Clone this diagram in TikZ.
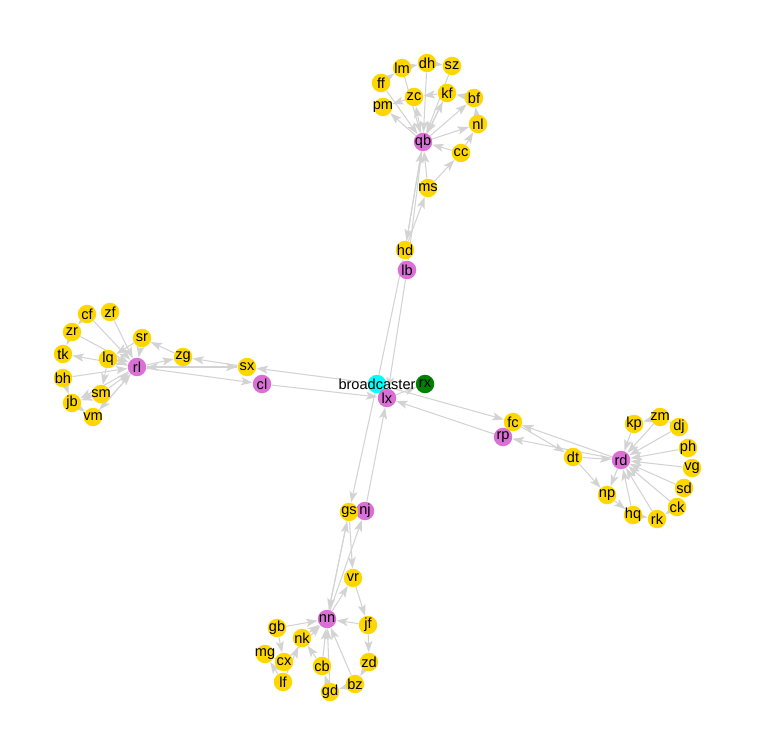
\documentclass[tikz,border=0pt]{standalone}
\usepackage{fontspec}
\setmainfont{Liberation Sans}
\usetikzlibrary{arrows.meta,backgrounds}
\definecolor{linkgray}{RGB}{211,211,211}
\definecolor{flipgold}{RGB}{255,215,0}
\definecolor{conjorchid}{RGB}{218,112,214}
\definecolor{startcyan}{RGB}{0,255,255}
\definecolor{endgreen}{RGB}{0,128,0}
\tikzset{
  vertex/.style={circle, inner sep=0pt, minimum size=0.37cm},
  flip/.style={vertex, fill=flipgold},
  conj/.style={vertex, fill=conjorchid},
  every label/.style={font=\fontsize{8.3}{9}\selectfont, text=black, inner sep=0pt},
  link/.style={draw=linkgray, line width=0.6pt, -{Stealth[length=6.5pt,width=4.6pt,inset=1.5pt]}}
}
\begin{document}
\begin{tikzpicture}[x=0.02cm, y=-0.02cm]
                \useasboundingbox (0,0) rectangle (756,756);
                % centre
                \node[vertex, fill=endgreen, label=center:rx] (rx) at (425,384) {};
                \node[vertex, fill=startcyan, label=center:broadcaster] (broadcaster) at (377,384) {};
                \node[conj, label=center:lx] (lx) at (387,398) {};
                \node[conj, label=center:lb] (lb) at (407,270) {};
                \node[conj, label=center:cl] (cl) at (262,384) {};
                \node[conj, label=center:rp] (rp) at (503,437) {};
                \node[conj, label=center:nj] (nj) at (365,511) {};

                % top counter
                \node[conj, label=center:qb] (qb) at (423,142) {};
                \node[flip, label=center:hd] (hd) at (405,250) {};
                \node[flip, label=center:ms] (ms) at (428,188) {};
                \node[flip, label=center:cc] (cc) at (461,153) {};
                \node[flip, label=center:nl] (nl) at (478,124) {};
                \node[flip, label=center:bf] (bf) at (474,98) {};
                \node[flip, label=center:kf] (kf) at (447,93) {};
                \node[flip, label=center:zc] (zc) at (414,97) {};
                \node[flip, label=center:pm] (pm) at (383,107) {};
                \node[flip, label=center:ff] (ff) at (381,83) {};
                \node[flip, label=center:lm] (lm) at (402,68) {};
                \node[flip, label=center:dh] (dh) at (427,63) {};
                \node[flip, label=center:sz] (sz) at (452,66) {};

                % left counter
                \node[conj, label=center:rl] (rl) at (137,367) {};
                \node[flip, label=center:sx] (sx) at (247,367) {};
                \node[flip, label=center:zg] (zg) at (183,357) {};
                \node[flip, label=center:sr] (sr) at (142,338) {};
                \node[flip, label=center:lq] (lq) at (108,359) {};
                \node[flip, label=center:sm] (sm) at (101,394) {};
                \node[flip, label=center:vm] (vm) at (93,417) {};
                \node[flip, label=center:jb] (jb) at (72,403) {};
                \node[flip, label=center:bh] (bh) at (63,378) {};
                \node[flip, label=center:tk] (tk) at (63,354) {};
                \node[flip, label=center:zr] (zr) at (72,332) {};
                \node[flip, label=center:cf] (cf) at (87,314) {};
                \node[flip, label=center:zf] (zf) at (110,312) {};

                % right counter
                \node[conj, label=center:rd] (rd) at (621,460) {};
                \node[flip, label=center:fc] (fc) at (513,422) {};
                \node[flip, label=center:dt] (dt) at (573,457) {};
                \node[flip, label=center:np] (np) at (607,495) {};
                \node[flip, label=center:hq] (hq) at (633,515) {};
                \node[flip, label=center:rk] (rk) at (657,519) {};
                \node[flip, label=center:ck] (ck) at (677,507) {};
                \node[flip, label=center:sd] (sd) at (684,488) {};
                \node[flip, label=center:vg] (vg) at (692,468) {};
                \node[flip, label=center:ph] (ph) at (688,448) {};
                \node[flip, label=center:dj] (dj) at (679,427) {};
                \node[flip, label=center:zm] (zm) at (660,417) {};
                \node[flip, label=center:kp] (kp) at (634,424) {};

                % bottom counter
                \node[conj, label=center:nn] (nn) at (327,619) {};
                \node[flip, label=center:gs] (gs) at (349,512) {};
                \node[flip, label=center:vr] (vr) at (353,578) {};
                \node[flip, label=center:jf] (jf) at (368,625) {};
                \node[flip, label=center:zd] (zd) at (369,662) {};
                \node[flip, label=center:bz] (bz) at (355,684) {};
                \node[flip, label=center:gd] (gd) at (330,692) {};
                \node[flip, label=center:cb] (cb) at (322,666) {};
                \node[flip, label=center:nk] (nk) at (302,638) {};
                \node[flip, label=center:gb] (gb) at (277,628) {};
                \node[flip, label=center:cx] (cx) at (284,662) {};
                \node[flip, label=center:mg] (mg) at (265,654) {};
                \node[flip, label=center:lf] (lf) at (283,682) {};

                \begin{scope}[on background layer]
                % centre links
                \draw[link] (broadcaster) to (hd); \draw[link] (broadcaster) to (sx); \draw[link] (broadcaster) to (fc); \draw[link] (broadcaster) to (gs);
                \draw[link] (lb) to (lx); \draw[link] (cl) to (lx); \draw[link] (rp) to (lx); \draw[link] (nj) to (lx); \draw[link] (lx) to (rx);
                \draw[link] (qb) to (lb); \draw[link] (rl) to (cl); \draw[link] (rd) to (rp); \draw[link] (nn) to (nj);

                % top links
                \draw[link] (hd) to (ms); \draw[link] (ms) to (cc); \draw[link] (cc) to (nl); \draw[link] (nl) to (bf); \draw[link] (bf) to (kf); \draw[link] (kf) to (zc);
                \draw[link] (zc) to (pm); \draw[link] (ff) to (lm); \draw[link] (lm) to (dh); \draw[link] (dh) to (sz);
                \draw[link] (hd) to (qb); \draw[link] (qb) to (hd); \draw[link] (ms) to (qb); \draw[link] (cc) to (qb); \draw[link] (qb) to (nl); \draw[link] (qb) to (bf);
                \draw[link] (qb) to (kf); \draw[link] (kf) to (qb); \draw[link] (qb) to (zc); \draw[link] (qb) to (pm); \draw[link] (ff) to (qb); \draw[link] (lm) to (qb);
                \draw[link] (dh) to (qb); \draw[link] (sz) to (qb);

                % left links
                \draw[link] (sx) to (zg); \draw[link] (zg) to (sr); \draw[link] (sr) to (lq); \draw[link] (lq) to (sm); \draw[link] (sm) to (jb); \draw[link] (jb) to (vm);
                \draw[link] (bh) to (jb); \draw[link] (zr) to (tk); \draw[link] (cf) to (zr);
                \draw[link] (sx) to (rl); \draw[link] (rl) to (sx); \draw[link] (rl) to (zg); \draw[link] (sr) to (rl); \draw[link] (lq) to (rl); \draw[link] (rl) to (tk);
                \draw[link] (sm) to (rl); \draw[link] (rl) to (vm); \draw[link] (vm) to (rl); \draw[link] (bh) to (rl); \draw[link] (zr) to (rl); \draw[link] (cf) to (rl);
                \draw[link] (zf) to (rl); \draw[link] (rl) to (jb);

                % right links
                \draw[link] (fc) to (dt); \draw[link] (dt) to (np); \draw[link] (np) to (hq); \draw[link] (hq) to (rk); \draw[link] (ck) to (rk); \draw[link] (dj) to (zm);
                \draw[link] (zm) to (kp);
                \draw[link] (rd) to (fc); \draw[link] (dt) to (rd); \draw[link] (rd) to (np); \draw[link] (hq) to (rd); \draw[link] (rk) to (rd); \draw[link] (ck) to (rd);
                \draw[link] (sd) to (rd); \draw[link] (vg) to (rd); \draw[link] (ph) to (rd); \draw[link] (dj) to (rd); \draw[link] (zm) to (rd); \draw[link] (kp) to (rd);

                % bottom links
                \draw[link] (gs) to (vr); \draw[link] (vr) to (jf); \draw[link] (jf) to (zd); \draw[link] (zd) to (bz); \draw[link] (bz) to (gd); \draw[link] (gd) to (cb);
                \draw[link] (cb) to (nk); \draw[link] (lf) to (nk); \draw[link] (gb) to (cx); \draw[link] (cx) to (mg); \draw[link] (lf) to (mg);
                \draw[link] (nn) to (gs); \draw[link] (gs) to (nn); \draw[link] (nn) to (vr); \draw[link] (jf) to (nn); \draw[link] (bz) to (nn); \draw[link] (cb) to (nn);
                \draw[link] (gd) to (nn); \draw[link] (nk) to (nn); \draw[link] (gb) to (nn); \draw[link] (cx) to (nn);
                \end{scope}
            \end{tikzpicture}
\end{document}
